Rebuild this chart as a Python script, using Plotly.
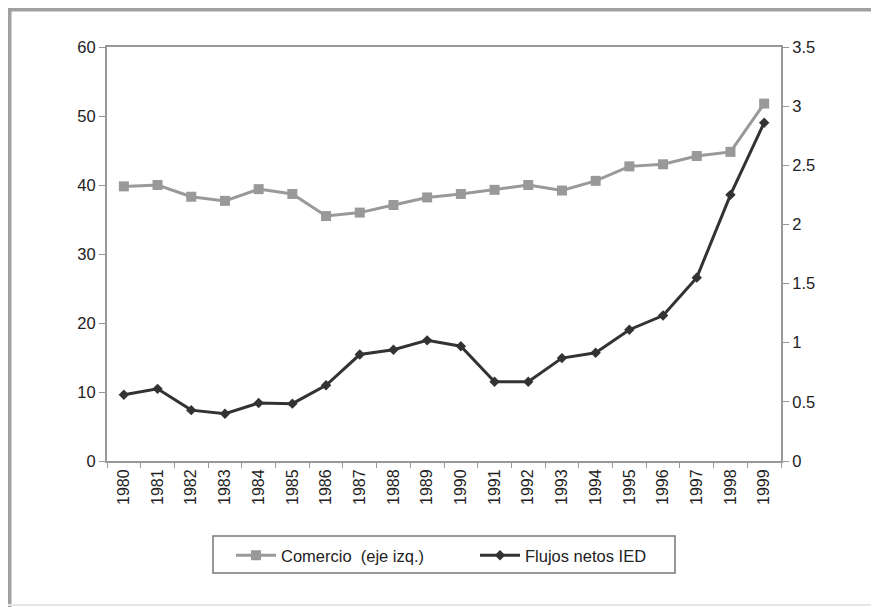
import plotly.graph_objects as go

years = [str(y) for y in range(1980, 2000)]
comercio = [39.8, 40.0, 38.3, 37.7, 39.4, 38.7, 35.5, 36.0, 37.1, 38.2,
            38.7, 39.3, 40.0, 39.2, 40.6, 42.7, 43.0, 44.2, 44.8, 51.8]
flujos = [0.56, 0.61, 0.43, 0.40, 0.49, 0.485, 0.64, 0.90, 0.94, 1.02,
          0.97, 0.67, 0.67, 0.87, 0.915, 1.11, 1.23, 1.55, 2.25, 2.86]

# page is offset by the 8px body margin
OFF = 8
W, H = 879 - OFF, 607 - OFF
L, R, T, B = 107 - OFF, 781 - OFF, 47 - OFF, 461 - OFF

def px(p):
    return (p - OFF - L) / (R - L)

def py(q):
    return (B - (q - OFF)) / (B - T)

fig = go.Figure()
fig.add_trace(go.Scatter(
    x=years, y=comercio, name="Comercio&nbsp; (eje izq.)", mode="lines+markers",
    line=dict(color="#999999", width=3),
    marker=dict(symbol="square", size=10, color="#999999"),
    yaxis="y"))
fig.add_trace(go.Scatter(
    x=years, y=flujos, name="Flujos netos IED", mode="lines+markers",
    line=dict(color="#333333", width=3),
    marker=dict(symbol="diamond", size=8, color="#333333"),
    yaxis="y2"))

axis_col = "#999999"
font_col = "#222222"

fig.update_layout(
    width=W, height=H,
    margin=dict(l=L, r=W - R, t=T, b=H - B),
    paper_bgcolor="white", plot_bgcolor="white",
    font=dict(family="Liberation Sans, Arial, sans-serif", size=16, color=font_col),
    showlegend=True,
    legend=dict(orientation="h", x=px(231), xanchor="left", y=py(538), yanchor="top",
                borderwidth=0, bgcolor="rgba(0,0,0,0)", font=dict(size=16.5),
                itemwidth=40, entrywidth=189),
    xaxis=dict(type="category", range=[-0.5, 19.5], showline=True, linecolor=axis_col,
               linewidth=2, mirror=True, ticks="outside", tickson="boundaries",
               ticklen=5, tickcolor=axis_col, tickangle=-90, showgrid=False,
               tickfont=dict(size=16)),
    yaxis=dict(range=[0, 60], dtick=10, showline=True, linecolor=axis_col, linewidth=2,
               ticks="outside", ticklen=6, tickcolor=axis_col, showgrid=False,
               zeroline=False, tickfont=dict(size=16.5)),
    yaxis2=dict(range=[0, 3.5], dtick=0.5, overlaying="y", side="right", showline=True,
                linecolor=axis_col, linewidth=2, ticks="outside", ticklen=6,
                tickcolor=axis_col, showgrid=False, zeroline=False,
                tickfont=dict(size=16.5)),
)

# legend box
fig.add_shape(type="rect", xref="paper", yref="paper",
              x0=px(213), x1=px(675), y0=py(536), y1=py(573),
              line=dict(color="#777777", width=1.5), fillcolor="rgba(0,0,0,0)")

# outer frame (left and top thick, bottom faint)
fig.add_shape(type="line", xref="paper", yref="paper",
              x0=px(9.5), x1=px(9.5), y0=py(8), y1=py(607),
              line=dict(color="#a0a0a0", width=4))
fig.add_shape(type="line", xref="paper", yref="paper",
              x0=px(8), x1=px(879), y0=py(9.5), y1=py(9.5),
              line=dict(color="#a0a0a0", width=4))
fig.add_shape(type="line", xref="paper", yref="paper",
              x0=px(8), x1=px(879), y0=py(605), y1=py(605),
              line=dict(color="#e6e6e6", width=2))

fig.write_html("out.html")
